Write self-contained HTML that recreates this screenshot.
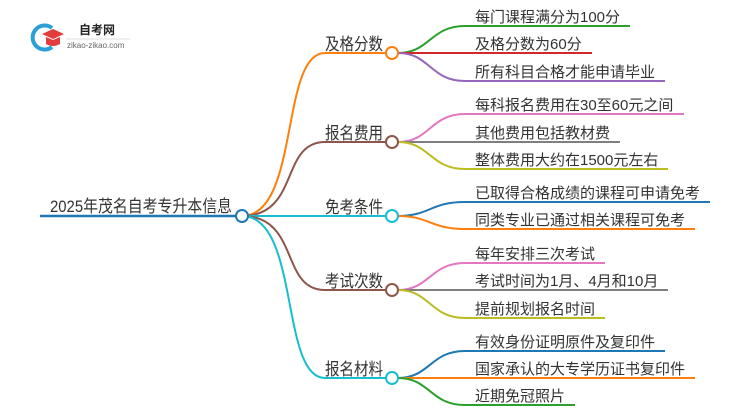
<!DOCTYPE html>
<html><head><meta charset="utf-8"><style>
body{margin:0;background:#fff;width:750px;height:410px;overflow:hidden}
svg text{font-family:"Liberation Sans","Noto Sans CJK SC",sans-serif;fill:#333}
</style></head><body>
<svg width="750" height="410" viewBox="0 0 750 410" xmlns="http://www.w3.org/2000/svg">
<path d="M52 28 A12 12 0 1 0 52 47" fill="none" stroke="#2a9fd8" stroke-width="4"/>
<polygon points="42,34 53,29 64,34 53,39" fill="#e23c3c"/>
<path d="M46 37 L46 44 Q53 48 60 44 L60 37 L53 40 Z" fill="#e23c3c"/>
<text x="79" y="34" font-size="12" font-weight="bold" style="fill:#222">自考网</text>
<line x1="66" y1="39" x2="130" y2="39" stroke="#ddd" stroke-width="1"/>
<text x="67" y="48" font-size="8" style="fill:#666">zikao-zikao.com</text>

<line x1="40" y1="216" x2="236" y2="216" stroke="#1f77b4" stroke-width="2.5"/>
<text x="50" y="212" font-size="17" textLength="182" lengthAdjust="spacingAndGlyphs">2025年茂名自考专升本信息</text>

<g fill="none" stroke-width="2">
<path d="M242 216 C300 216 280 53 325 53 L386 53" stroke="#ff7f0e"/>
<path d="M242 216 C300 216 280 142 325 142 L386 142" stroke="#8c564b"/>
<path d="M248 216 L386 216" stroke="#17becf"/>
<path d="M242 216 C300 216 280 290 325 290 L386 290" stroke="#8c564b"/>
<path d="M242 216 C300 216 280 378 325 378 L386 378" stroke="#17becf"/>

<path d="M398 53 C430 53 430 26 465 26 L630 26" stroke="#2ca02c"/>
<path d="M398 53 L592 53" stroke="#d62728"/>
<path d="M398 53 C430 53 430 81 465 81 L665 81" stroke="#9467bd"/>

<path d="M398 142 C430 142 430 114 465 114 L684 114" stroke="#e377c2"/>
<path d="M398 142 L620 142" stroke="#7f7f7f"/>
<path d="M398 142 C430 142 430 169 465 169 L668 169" stroke="#bcbd22"/>

<path d="M398 216 C430 216 430 202 465 202 L710 202" stroke="#1f77b4"/>
<path d="M398 216 C430 216 430 229 465 229 L695 229" stroke="#ff7f0e"/>

<path d="M398 290 C430 290 430 263 465 263 L605 263" stroke="#e377c2"/>
<path d="M398 290 L668 290" stroke="#7f7f7f"/>
<path d="M398 290 C430 290 430 318 465 318 L605 318" stroke="#bcbd22"/>

<path d="M398 378 C430 378 430 351 465 351 L665 351" stroke="#1f77b4"/>
<path d="M398 378 L695 378" stroke="#ff7f0e"/>
<path d="M398 378 C430 378 430 405 465 405 L575 405" stroke="#2ca02c"/>
</g>

<circle cx="242" cy="216" r="6" fill="#fff" stroke="#1f77b4" stroke-width="2"/>
<circle cx="392" cy="53" r="6" fill="#fff" stroke="#ff7f0e" stroke-width="2"/>
<circle cx="392" cy="142" r="6" fill="#fff" stroke="#8c564b" stroke-width="2"/>
<circle cx="392" cy="216" r="6" fill="#fff" stroke="#17becf" stroke-width="2"/>
<circle cx="392" cy="290" r="6" fill="#fff" stroke="#8c564b" stroke-width="2"/>
<circle cx="392" cy="378" r="6" fill="#fff" stroke="#17becf" stroke-width="2"/>

<g font-size="17">
<text x="325" y="50" textLength="58" lengthAdjust="spacingAndGlyphs">及格分数</text>
<text x="325" y="139" textLength="58" lengthAdjust="spacingAndGlyphs">报名费用</text>
<text x="325" y="213" textLength="58" lengthAdjust="spacingAndGlyphs">免考条件</text>
<text x="325" y="287" textLength="58" lengthAdjust="spacingAndGlyphs">考试次数</text>
<text x="325" y="375" textLength="58" lengthAdjust="spacingAndGlyphs">报名材料</text>
</g>
<g font-size="15">
<text x="475" y="22">每门课程满分为100分</text>
<text x="475" y="49">及格分数为60分</text>
<text x="475" y="77">所有科目合格才能申请毕业</text>
<text x="475" y="110">每科报名费用在30至60元之间</text>
<text x="475" y="138">其他费用包括教材费</text>
<text x="475" y="165">整体费用大约在1500元左右</text>
<text x="475" y="198">已取得合格成绩的课程可申请免考</text>
<text x="475" y="225">同类专业已通过相关课程可免考</text>
<text x="475" y="259">每年安排三次考试</text>
<text x="475" y="286">考试时间为1月、4月和10月</text>
<text x="475" y="314">提前规划报名时间</text>
<text x="475" y="347">有效身份证明原件及复印件</text>
<text x="475" y="374">国家承认的大专学历证书复印件</text>
<text x="475" y="401">近期免冠照片</text>
</g>
</svg>
</body></html>
